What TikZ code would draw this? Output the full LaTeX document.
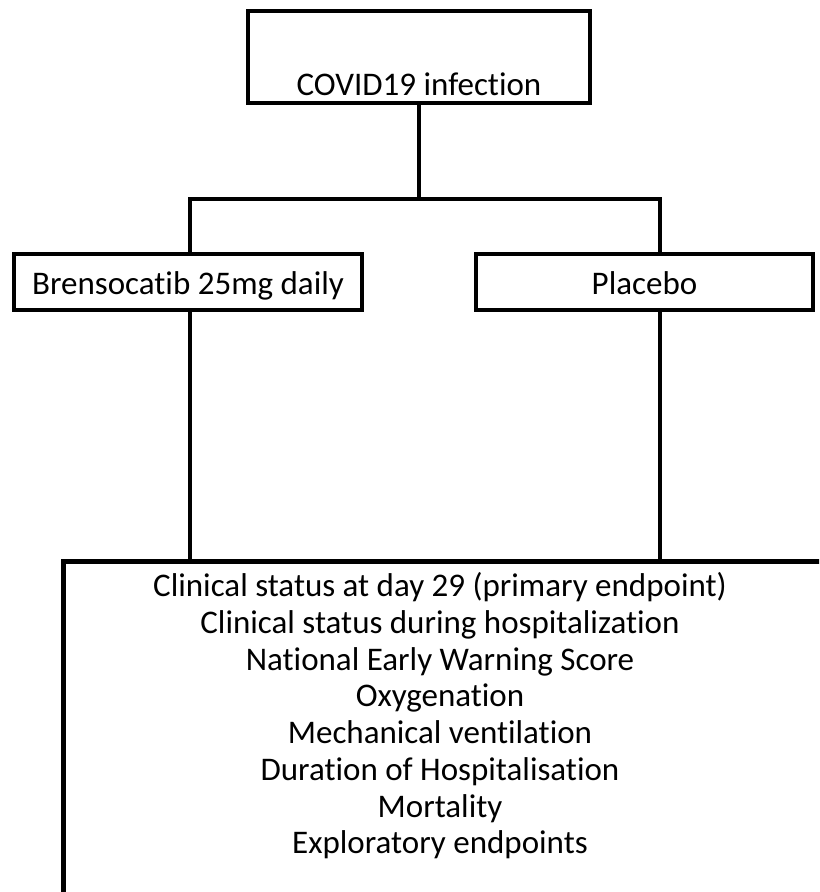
\documentclass[tikz,border=0pt]{standalone}
\usepackage{fontspec}
\setmainfont[Ligatures=NoCommon]{Carlito}
\begin{document}
\begin{tikzpicture}[x=0.5pt,y=-0.5pt,line width=1.75pt,
  box/.style={draw,line width=2.25pt,inner sep=0pt,font=\fontsize{16.5}{18.35}\selectfont},
  arm/.style={box,minimum height=28pt,text height=14.5pt,text depth=1.5pt}]
\useasboundingbox (0,0) rectangle (819,892);
\clip (0,0) rectangle (819,892);
\node[box,minimum width=171pt,text height=42.5pt,text depth=3.5pt] (covid) at (419,57) {COVID19 infection};
\node[arm,minimum width=174pt] (brenso) at (188,282) {Brensocatib 25mg daily};
\node[arm,minimum width=168.5pt] (placebo) at (644.5,282) {Placebo};
\node[box,anchor=north west,minimum width=384.5pt,minimum height=170.5pt] (outcomes) at (61,559) {};
\node[anchor=north,align=center,inner sep=0pt,font=\fontsize{16.5}{18.35}\selectfont] (endpoints) at (440,571)
  {Clinical status at day 29 (primary endpoint)\\Clinical status during hospitalization\\National Early Warning Score\\Oxygenation\\Mechanical ventilation\\Duration of Hospitalisation\\Mortality\\Exploratory endpoints};
\coordinate (lft) at (190,199);
\coordinate (rgt) at (660,199);
\draw (covid.south) -- (covid.south |- lft);
\draw (lft |- brenso.north) -- (lft) -- (rgt) -- (rgt |- placebo.north);
\draw (lft |- brenso.south) -- (lft |- outcomes.north);
\draw (rgt |- placebo.south) -- (rgt |- outcomes.north);
\end{tikzpicture}
\end{document}
